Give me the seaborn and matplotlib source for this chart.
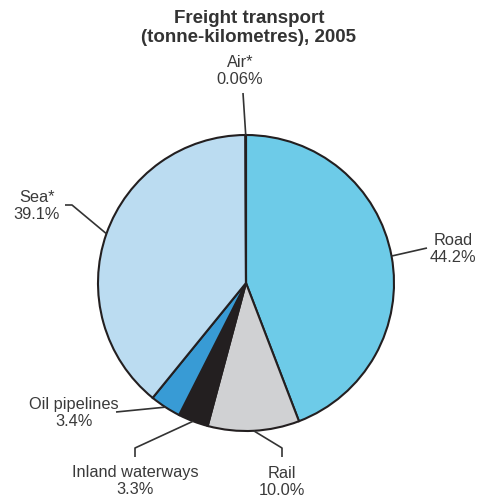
import matplotlib
matplotlib.use("Agg")
import matplotlib.pyplot as plt
import numpy as np
import seaborn as sns

# Freight transport shares (tonne-kilometres), 2005
categories = ["Road", "Rail", "Inland waterways", "Oil pipelines", "Sea*", "Air*"]
shares = [44.2, 10.0, 3.3, 3.4, 39.1, 0.06]
colors = ["#6dcbe8", "#d0d1d3", "#231f20", "#389bd5", "#bbdcf1", "#6dcbe8"]
title = "Freight transport\n(tonne-kilometres), 2005"

sns.set_theme(style="white")
plt.rcParams["font.family"] = ["Liberation Sans", "DejaVu Sans"]

W, H = 478, 501
fig = plt.figure(figsize=(W / 100, H / 100), dpi=100)
ax = fig.add_axes([0, 0, 1, 1])


def P(x, y):
    """Pixel position (origin top-left) to data coordinates."""
    return x, H - y


cx, cy = P(246, 283)
R = 148

wedges, _ = ax.pie(
    shares,
    colors=colors,
    startangle=90,
    counterclock=False,
    center=(cx, cy),
    radius=R,
    wedgeprops=dict(edgecolor="#231f20", linewidth=1.5),
)
ax.set_aspect("auto")
ax.set_xlim(0, W)
ax.set_ylim(0, H)
ax.axis("off")

# label placement: text centre and leader-line bend points (pixels)
layout = {
    "Road": dict(text=(453, 249), path=[(427, 248)]),
    "Rail": dict(text=(282, 482), path=[(282, 448), (282, 457)]),
    "Inland waterways": dict(text=(135, 481), path=[(135, 448), (135, 457)]),
    "Oil pipelines": dict(text=(74, 413), path=[(116, 412)]),
    "Sea*": dict(text=(37, 206), path=[(72, 205), (65, 205)]),
    "Air*": dict(text=(240, 71), path=[(243, 93)]),
}

line_col = "#333333"
text_col = "#3a3a3a"

for w, name, v in zip(wedges, categories, shares):
    mid = np.deg2rad((w.theta1 + w.theta2) / 2)
    ex, ey = cx + R * np.cos(mid), cy + R * np.sin(mid)
    spec = layout[name]
    pts = [(ex, ey)] + [P(*p) for p in spec["path"]]
    xs, ys = zip(*pts)
    ax.plot(xs, ys, color=line_col, lw=1.2, solid_capstyle="butt", zorder=3)
    pct = f"{v:.2f}%" if v < 1 else f"{v:.1f}%"
    tx, ty = P(*spec["text"])
    ax.text(tx, ty, f"{name}\n{pct}", ha="center", va="center",
            fontsize=11.8, color=text_col, linespacing=1.22)

tx, ty = P(249, 28)
ax.text(tx, ty, title, ha="center", va="center", fontsize=13.5,
        fontweight="bold", color="#333333", linespacing=1.15)

fig.savefig("out.png", dpi=100, facecolor="white")
